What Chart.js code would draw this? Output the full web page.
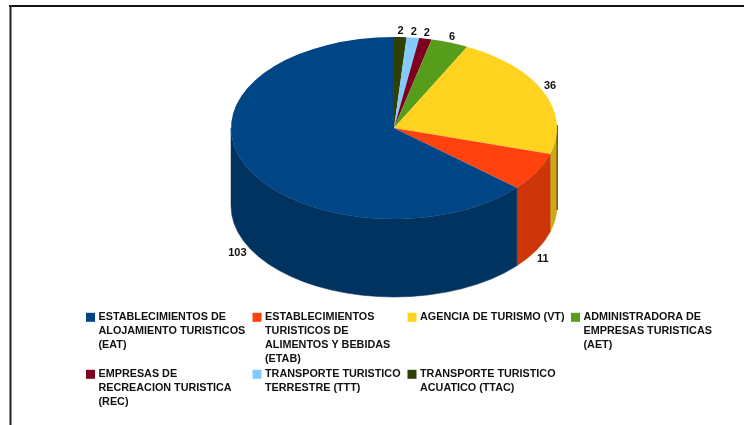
<!DOCTYPE html>
<html><head><meta charset="utf-8">
<style>html,body{margin:0;padding:0;background:#fff}canvas{display:block}</style>
<script src="https://cdn.jsdelivr.net/npm/chart.js@4/dist/chart.umd.min.js"></script>
</head><body><canvas id="c" width="744" height="425"></canvas>
<script>
const categories = [
  ["ESTABLECIMIENTOS DE","ALOJAMIENTO TURISTICOS","(EAT)"],
  ["ESTABLECIMIENTOS","TURISTICOS DE","ALIMENTOS Y BEBIDAS","(ETAB)"],
  ["AGENCIA DE TURISMO (VT)"],
  ["ADMINISTRADORA DE","EMPRESAS TURISTICAS","(AET)"],
  ["EMPRESAS DE","RECREACION TURISTICA","(REC)"],
  ["TRANSPORTE TURISTICO","TERRESTRE (TTT)"],
  ["TRANSPORTE TURISTICO","ACUATICO (TTAC)"]
];
const values = [103,11,36,6,2,2,2];
const colors = ["#004586","#ff420e","#ffd320","#579d1c","#7e0021","#83caff","#314004"];
const sideColors = ["#00335f","#cc3609","#cca91a","#467e16","#65001a","#69a2cc","#273303"];
const legendCols = [86,252.5,407.5,571];
const legendRows = [317.3,374.3];

const ellipse = {cx:394, cy:128, ry:91, depth:78};
const FONT = 'bold 10.8px "Liberation Sans"';
const LABEL_FONT = 'bold 11px "Liberation Sans"';
const INK = '#111';

const threeD = {
  id:'threeD',
  beforeDraw(chart){
    const c = chart.ctx;
    c.save();
    c.fillStyle='#fff'; c.fillRect(0,0,744,425);
    c.fillStyle='#111'; c.fillRect(9,5,735,2);
    c.fillStyle='#222'; c.fillRect(9.5,5,2,420);
    c.restore();
  },
  beforeDatasetsDraw(chart){
    const c = chart.ctx, arcs = chart.getDatasetMeta(0).data, order = chart.data.order;
    const {cy,ry,depth} = ellipse;
    arcs.forEach((a,i)=>{
      const R=a.outerRadius, cx=a.x;
      let st=a.startAngle, en=a.endAngle;
      if (st<0 && en<=0) return;
      if (st>=Math.PI) return;
      st=Math.max(st,0); en=Math.min(en,Math.PI);
      c.save();
      c.beginPath();
      c.ellipse(cx,cy,R,ry,0,st,en,false);
      c.ellipse(cx,cy+depth,R,ry,0,en,st,true);
      c.closePath();
      c.fillStyle=sideColors[order[i]];
      c.strokeStyle=sideColors[order[i]];
      c.lineWidth=0.5;
      c.fill(); c.stroke();
      c.restore();
    });
    const a0=arcs[0];
    c.save();
    c.strokeStyle='#4a3d05'; c.lineWidth=1.2;
    c.beginPath();
    c.moveTo(a0.x+a0.outerRadius+0.2,cy-3);
    c.lineTo(a0.x+a0.outerRadius+0.2,cy+depth+4);
    c.stroke();
    c.restore();
    c.save();
    c.translate(0,cy);
    c.scale(1,ry/a0.outerRadius);
    c.translate(0,-a0.y);
  },
  afterDatasetsDraw(chart){
    const c = chart.ctx, arcs = chart.getDatasetMeta(0).data, order = chart.data.order;
    c.restore();
    const {cy,ry,depth} = ellipse;
    c.save();
    c.font=LABEL_FONT; c.fillStyle=INK; c.textAlign='center'; c.textBaseline='middle';
    arcs.forEach((a,i)=>{
      const m=(a.startAngle+a.endAngle)/2, ca=Math.cos(m), sa=Math.sin(m);
      const front=sa>0.3;
      const x=a.x+a.outerRadius*ca+(ca<0?9:7)*ca;
      const y=cy+ry*sa+(front?depth+9:-6);
      c.fillText(String(values[order[i]]),x,y);
    });
    c.font=FONT;
    c.textAlign='left';
    categories.forEach((lines,i)=>{
      const col=i%4, row=Math.floor(i/4);
      const x=legendCols[col], y=legendRows[row];
      c.fillStyle=colors[i];
      c.fillRect(x,y-4.5,9,9);
      c.fillStyle=INK;
      lines.forEach((t,j)=>c.fillText(t,x+12.5,y+j*14));
    });
    c.restore();
  }
};

const order = values.map((_,i)=>values.length-1-i);
new Chart(document.getElementById('c'),{
  type:'pie',
  data:{
    order,
    labels:order.map(i=>categories[i].join(' ')),
    datasets:[{
      data:order.map(i=>values[i]),
      backgroundColor:order.map(i=>colors[i]),
      borderWidth:0,
      hoverOffset:0
    }]
  },
  options:{
    responsive:false,
    animation:false,
    rotation:0,
    events:[],
    layout:{padding:{left:231,right:187,top:50,bottom:49}},
    plugins:{legend:{display:false},tooltip:{enabled:false},title:{display:false}}
  },
  plugins:[threeD]
});
</script></body></html>
